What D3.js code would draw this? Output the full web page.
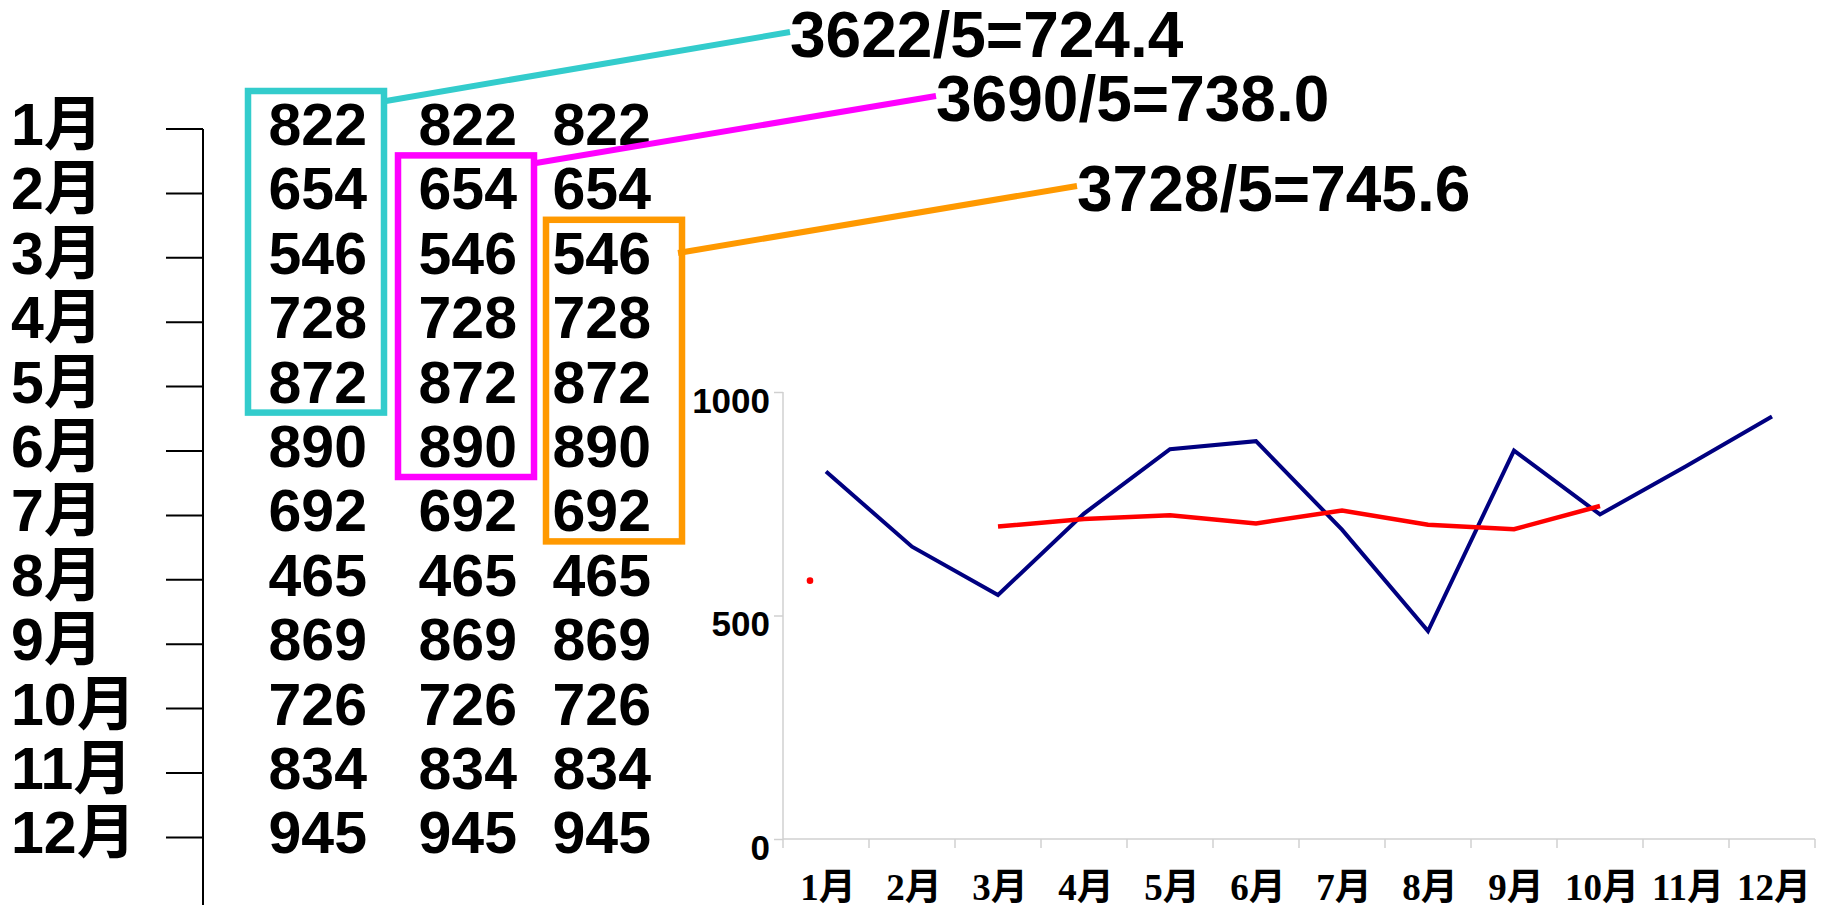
<!DOCTYPE html>
<html>
<head>
<meta charset="utf-8">
<script src="https://cdn.jsdelivr.net/npm/d3@7"></script>
<style>
  html, body { margin: 0; padding: 0; background: #ffffff; }
  svg { display: block; }
</style>
</head>
<body>
<svg id="chart" width="1834" height="909"></svg>
<script>
// ---------------- data ----------------
const months = ['1月','2月','3月','4月','5月','6月','7月','8月','9月','10月','11月','12月'];
const sales = [822, 654, 546, 728, 872, 890, 692, 465, 869, 726, 834, 945];
// the red line as it is drawn in the picture (5-month moving average, plotted lower)
const avgMonths = ['3月','4月','5月','6月','7月','8月','9月','10月'];
const avgPlotted = [699, 716, 724, 706, 735, 703, 693, 745];
const strayDotMonth = '1月';
const strayDotValue = 578;
const yTicks = [0, 500, 1000];
const tableCopies = 3;
// moving windows highlighted in the table: start month index per column
const windowStarts = [0, 1, 2];
const windowLength = 5;
const windowColors = ['#33cccc', '#ff00ff', '#ff9900'];
const annotations = ['3622/5=724.4', '3690/5=738.0', '3728/5=745.6'];

// ---------------- layout ----------------
const svg = d3.select('#chart');
svg.append('rect').attr('width', 1834).attr('height', 909).attr('fill', '#fff');

const sans = '"Liberation Sans", Arial, "Noto Sans CJK SC", sans-serif';
const serif = '"Liberation Serif", "Times New Roman", "Noto Sans CJK SC", serif';

// table rows (baselines)
const rowY = d3.scaleLinear().domain([0, 11]).range([145, 853.4]);
const colRight = d3.scaleOrdinal().domain([0, 1, 2]).range([367, 517, 651]);
const boxNudge = [0, 0, 14];
const labelSize = 59;

// left month labels
svg.append('g').selectAll('text').data(months).join('text')
  .attr('x', 11)
  .attr('y', (d, i) => rowY(i))
  .attr('font-family', sans).attr('font-weight', 'bold')
  .attr('font-size', labelSize).attr('fill', '#000')
  .text(d => d);

// left bracket axis
const leftAxisX = 203;
svg.append('line')
  .attr('x1', leftAxisX).attr('x2', leftAxisX)
  .attr('y1', rowY(0) - 16).attr('y2', 905)
  .attr('stroke', '#000').attr('stroke-width', 2);
svg.append('g').selectAll('line').data(months).join('line')
  .attr('x1', 166).attr('x2', leftAxisX)
  .attr('y1', (d, i) => rowY(i) - 16).attr('y2', (d, i) => rowY(i) - 16)
  .attr('stroke', '#000').attr('stroke-width', 2);

// numbers table
d3.range(tableCopies).forEach(c => {
  svg.append('g').selectAll('text').data(sales).join('text')
    .attr('x', colRight(c))
    .attr('y', (d, i) => rowY(i))
    .attr('text-anchor', 'end')
    .attr('font-family', sans).attr('font-weight', 'bold')
    .attr('font-size', labelSize).attr('fill', '#000')
    .text(d => d);
});

// highlight boxes
const boxW = 136;
windowStarts.forEach((s, k) => {
  const xr = colRight(k) + 17 + boxNudge[k];
  const top = rowY(s) - 54;
  const bottom = rowY(s + windowLength - 1) + 10;
  svg.append('rect')
    .attr('x', xr - boxW).attr('y', top)
    .attr('width', boxW).attr('height', bottom - top)
    .attr('fill', 'none').attr('stroke', windowColors[k]).attr('stroke-width', 6.5);
});

// annotations and connectors
const annotX = [790, 936, 1077];
const annotY = [57, 121, 211];
const connStart = [[386, 101], [536, 163], [678, 253]];
annotations.forEach((t, k) => {
  svg.append('line')
    .attr('x1', connStart[k][0]).attr('y1', connStart[k][1])
    .attr('x2', annotX[k]).attr('y2', annotY[k] - 25)
    .attr('stroke', windowColors[k]).attr('stroke-width', 6);
  svg.append('text')
    .attr('x', annotX[k]).attr('y', annotY[k])
    .attr('font-family', sans).attr('font-weight', 'bold')
    .attr('font-size', 64).attr('fill', '#000')
    .text(t);
});

// ---------------- line chart ----------------
const y = d3.scaleLinear().domain([0, 1000]).range([839, 392]);
const xBand = d3.scaleBand().domain(months).range([783, 1815]).padding(0);
const cx = m => xBand(m) + xBand.bandwidth() / 2;

const axisColor = '#d0d0d0';
// y axis
const yAxis = svg.append('g').attr('transform', 'translate(783,0)')
  .call(d3.axisLeft(y).tickValues(yTicks).tickSize(9).tickFormat(d3.format('d')));
yAxis.select('.domain').attr('stroke', axisColor).attr('stroke-width', 1.5)
  .attr('d', `M0,${y(1000)}V${y(0)}`);
yAxis.selectAll('.tick line').attr('stroke', axisColor).attr('stroke-width', 1.5);
yAxis.selectAll('.tick text')
  .attr('font-family', sans).attr('font-weight', 'bold').attr('font-size', 35)
  .attr('fill', '#000').attr('x', -13).attr('dy', 20);

// x axis
const xAxisG = svg.append('g').attr('transform', `translate(0,${y(0)})`);
xAxisG.append('line').attr('x1', 783).attr('x2', 1815).attr('y1', 0).attr('y2', 0)
  .attr('stroke', axisColor).attr('stroke-width', 1.5);
const bounds = months.map(m => xBand(m)).concat([xBand.range()[1]]);
xAxisG.selectAll('line.tk').data(bounds).join('line').attr('class', 'tk')
  .attr('x1', d => d).attr('x2', d => d).attr('y1', 0).attr('y2', 9)
  .attr('stroke', axisColor).attr('stroke-width', 1.5);
xAxisG.selectAll('text').data(months).join('text')
  .attr('x', d => cx(d) + 2)
  .attr('y', 61)
  .attr('text-anchor', 'middle')
  .attr('font-family', serif).attr('font-weight', 'bold').attr('font-size', 37)
  .attr('fill', '#000')
  .text(d => d);

// blue line (monthly values)
const line = d3.line().x(d => cx(d.m)).y(d => y(d.v));
svg.append('path')
  .datum(sales.map((v, i) => ({ m: months[i], v })))
  .attr('d', line)
  .attr('fill', 'none').attr('stroke', '#000080').attr('stroke-width', 4);

// red line (moving average)
svg.append('path')
  .datum(avgPlotted.map((v, k) => ({ m: avgMonths[k], v })))
  .attr('d', line)
  .attr('fill', 'none').attr('stroke', '#ff0000').attr('stroke-width', 4.5);

// stray red dot
svg.append('circle')
  .attr('cx', cx(strayDotMonth) - 16)
  .attr('cy', y(strayDotValue))
  .attr('r', 3.3).attr('fill', '#ff0000');
</script>
</body>
</html>
